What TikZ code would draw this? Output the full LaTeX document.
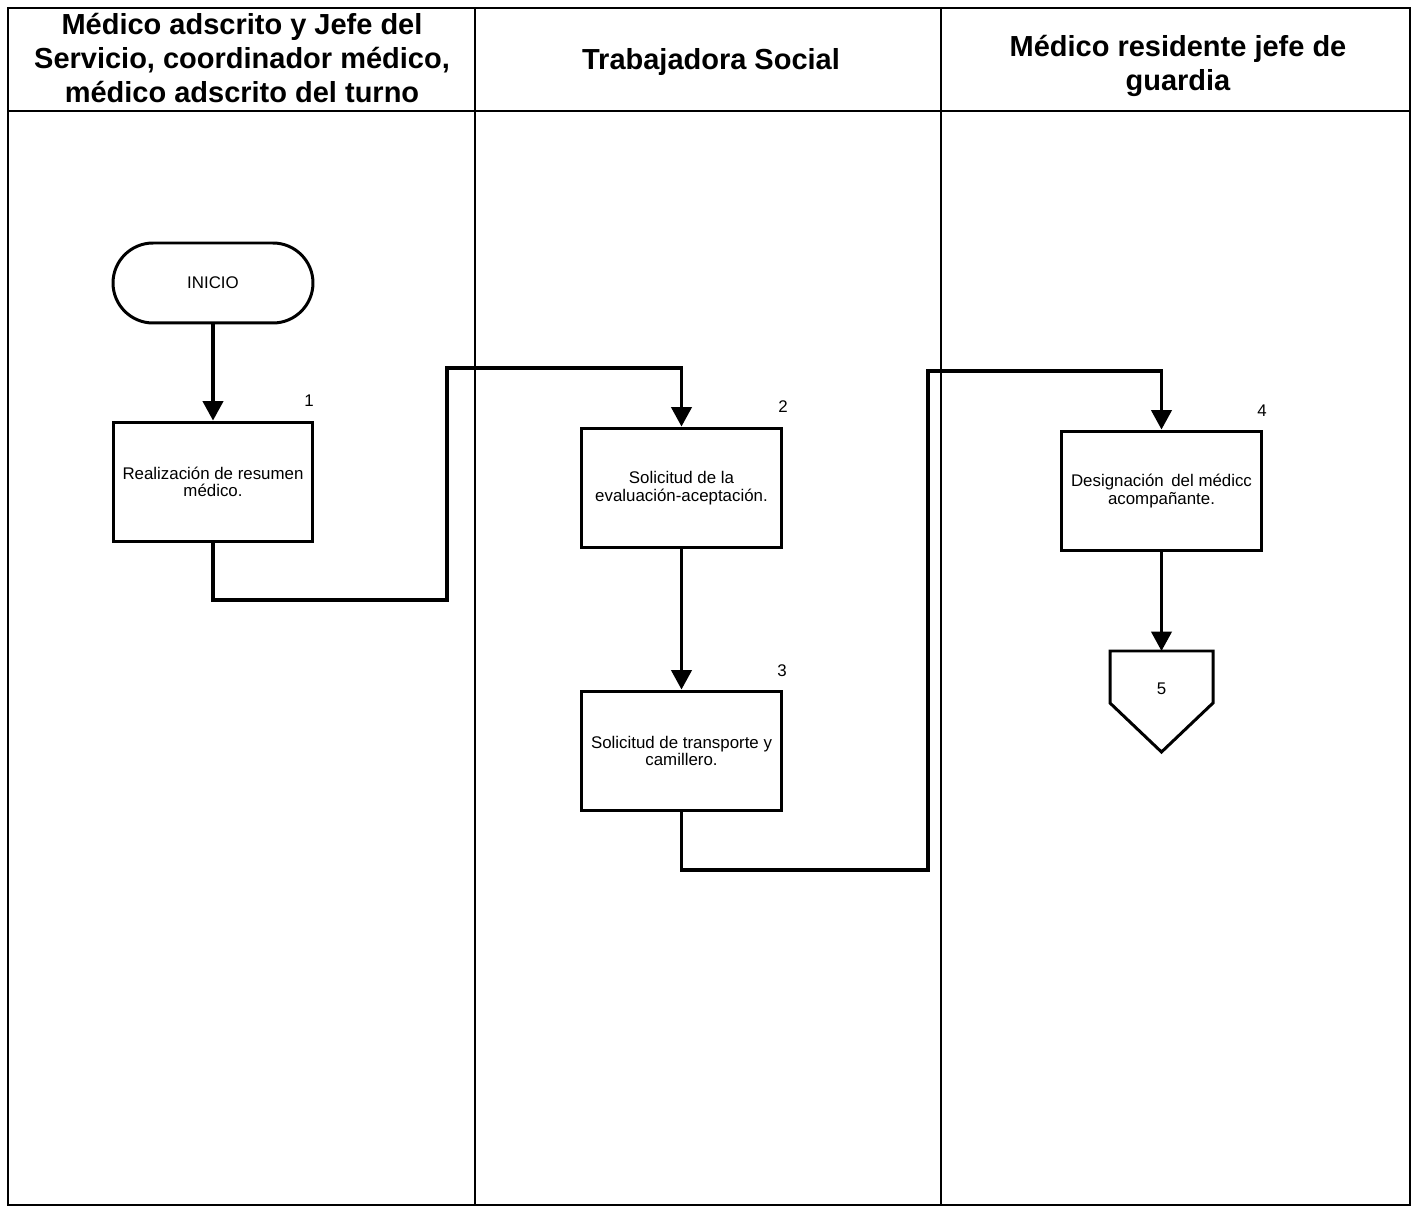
\documentclass[tikz,border=0pt]{standalone}
\usepackage{fontspec}
\setmainfont{Liberation Sans}
\usetikzlibrary{arrows.meta, positioning}

\begin{document}
\begin{tikzpicture}[
                x=0.02cm, y=-0.02cm,
                >={Triangle[width=11.5pt,length=11pt]},
                font=\fontsize{9.6}{10}\selectfont,
                lane/.style={line width=0.6pt},
                head/.style={font=\fontsize{16.5}{19.3}\selectfont\bfseries, align=center},
                term/.style={draw, line width=1.7pt, rounded corners=0.8cm, minimum width=4cm, minimum height=1.6cm},
                act/.style={draw, line width=1.7pt, minimum width=4cm, minimum height=2.4cm, align=center},
                num/.style={font=\fontsize{9.6}{10}\selectfont},
                flow/.style={line width=1.8pt, line join=miter, ->}
            ]
                \useasboundingbox (0,0) rectangle (1414,1209);
                % swimlanes
                \draw[line width=1pt] (8,8) rectangle (1410,1205);
                \draw[line width=1pt] (8,111) -- (1410,111);
                \draw[lane] (475,8) -- (475,1205);
                \draw[lane] (941,8) -- (941,1205);
                \node[head] (h1) at (242,58) {Médico adscrito y Jefe del\\Servicio, coordinador médico,\\médico adscrito del turno};
                \node[head] (h2) at (711,62) {Trabajadora Social};
                \node[head] (h3) at (1178,66) {Médico residente jefe de\\guardia};
                % steps
                \node[term] (ini) at (213,283) {INICIO};
                \node[act] (res) at (213,482) {Realización de resumen\\médico.};
                \node[act] (sol) at (681.5,488) {Solicitud de la\\evaluación-aceptación.};
                \node[act] (tra) at (681.5,751) {Solicitud de transporte y\\camillero.};
                \node[act] (des) at (1161.5,491) {Designación\, del médicc\\acompañante.};
                \node[num] (n1) at (309,401) {1};
                \node[num] (n2) at (783,407) {2};
                \node[num] (n3) at (782,671) {3};
                \node[num] (n4) at (1262,411) {4};
                % off-page connector
                \coordinate (p5) at (1161.5,651);
                \draw[line width=1.7pt, line join=miter] (p5) -- ++(51.5,0) -- ++(0,52) -- ++(-51.5,49) -- ++(-51.5,-49) -- ++(0,-52) -- cycle;
                \node[num] (n5) at (1161.5,689) {5};
                % connectors
                \draw[flow] (ini.south) -- (res.north);
                \draw[flow] (res.south) |- (447,600) -- (447,368) -| (sol.north);
                \draw[flow] (sol.south) -- (tra.north);
                \draw[flow] (tra.south) |- (928,870) -- (928,371) -| (des.north);
                \draw[flow] (des.south) -- (p5);
            \end{tikzpicture}
\end{document}
